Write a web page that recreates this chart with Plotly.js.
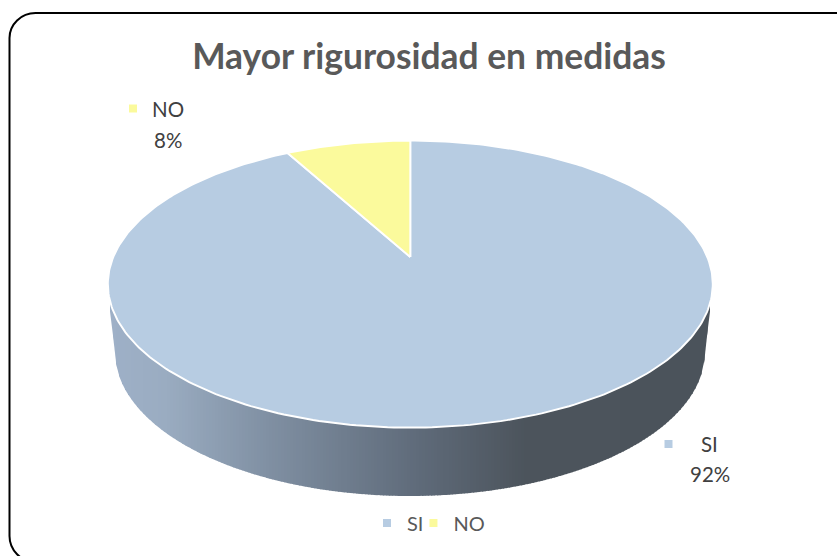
<!DOCTYPE html>
<html><head><meta charset="utf-8">
<script src="https://cdn.plot.ly/plotly-3.0.1.min.js"></script>
<style>html,body{margin:0;padding:0;background:#fff;overflow:hidden}#c{width:837px;height:556px}</style>
</head><body><div id="c"></div>
<script>
var categories = ['SI', 'NO'];
var shares = [92, 8];
var sliceColors = ['#B7CCE2', '#FBFA9C'];
var titleText = 'Mayor rigurosidad en medidas';
var FONT = 'Lato, sans-serif';

// Perspective disc: apex of the slices and projective factors
var CX = 410.3, APEX_Y = 257, B = 297, A = 138.4, K = -0.189;
function project(deg){
  var r = deg*Math.PI/180, u = Math.sin(r), v = -Math.cos(r), d = 1 + K*v;
  return [CX + B*u/d, APEX_Y + A*v/d];
}
// Lower rim of the side wall
var BOT_CX = 410, BOT_CY = 352, BOT_RX = 295, BOT_RY = 144, WALL_TOP_Y = 303;
function rimY(x){
  var dx = Math.abs(x - BOT_CX);
  if (dx >= BOT_RX) { return BOT_CY - (dx - BOT_RX)/6*(BOT_CY - WALL_TOP_Y); }
  return BOT_CY + BOT_RY*Math.sqrt(1 - dx*dx/(BOT_RX*BOT_RX));
}
var wallStops = [[110,[158,176,199]],[165,[154,172,193]],[267,[128,144,163]],[417,[95,107,122]],[525,[76,84,92]],[712,[75,83,91]]];
function wallColor(x){
  for (var i=0;i<wallStops.length-1;i++){
    var a=wallStops[i], b=wallStops[i+1];
    if (x<=b[0]){
      var t=(x-a[0])/(b[0]-a[0]);
      return 'rgb('+[0,1,2].map(function(j){return Math.round(a[1][j]+t*(b[1][j]-a[1][j]));}).join(',')+')';
    }
  }
  return 'rgb(75,83,91)';
}

var traces = [];
// side wall
var STEP = 3;
for (var x0 = 110; x0 < 710; x0 += STEP){
  var x1 = Math.min(x0 + STEP + 0.6, 710);
  traces.push({type:'scatter', mode:'none', fill:'toself', fillcolor:wallColor(x0+STEP/2),
    x:[x0,x1,x1,x0], y:[290,290,rimY(x1),rimY(x0)], showlegend:false, hoverinfo:'skip'});
}
// slices from the values
var total = shares.reduce(function(s,v){return s+v;},0), startDeg = 0;
shares.forEach(function(val,i){
  var sweep = val/total*360, xs=[CX], ys=[APEX_Y];
  for (var k=0;k<=Math.ceil(sweep);k++){
    var p = project(startDeg + sweep*k/Math.ceil(sweep));
    xs.push(p[0]); ys.push(p[1]);
  }
  xs.push(CX); ys.push(APEX_Y);
  traces.push({type:'scatter', mode:'lines', fill:'toself', fillcolor:sliceColors[i],
    line:{color:'#ffffff', width:1.9}, x:xs, y:ys, showlegend:false, hoverinfo:'skip', name:categories[i]});
  startDeg += sweep;
});
// data-label keys (also the legend entries)
var keyX = [668.5, 133], keyY = [444, 108.5];
categories.forEach(function(c,i){
  traces.push({type:'scatter', mode:'markers', name:c, x:[keyX[i]], y:[keyY[i]],
    marker:{symbol:'square', size:8, color:sliceColors[i]}, hoverinfo:'skip'});
});
var labelX = [709.5, 168], nameY = [444, 109], pctY = [474, 140];
var annotations = [];
categories.forEach(function(c,i){
  annotations.push({x:labelX[i], y:nameY[i], text:c, showarrow:false, xref:'x', yref:'y', xanchor:'center', yanchor:'middle', font:{family:FONT,size:20.5,color:'#404040'}});
  annotations.push({x:labelX[i], y:pctY[i], text:Math.round(shares[i]/total*100)+'%', showarrow:false, xref:'x', yref:'y', xanchor:'center', yanchor:'middle', font:{family:FONT,size:20.5,color:'#404040'}});
});
var layout = {
  width:837, height:556, margin:{l:0,r:0,t:0,b:0}, paper_bgcolor:'#fff', plot_bgcolor:'#fff',
  title:{text:'<b>'+titleText+'</b>', x:429/837, y:1-57/556, xanchor:'center', yanchor:'middle', font:{family:FONT,size:35.4,color:'#595959'}},
  xaxis:{range:[0,837], visible:false, fixedrange:true},
  yaxis:{range:[556,0], visible:false, fixedrange:true},
  legend:{orientation:'h', x:436/837, y:1-523/556, xanchor:'center', yanchor:'middle', indentation:-15, itemwidth:30, font:{family:FONT,size:20,color:'#595959'}, bgcolor:'rgba(0,0,0,0)'},
  annotations:annotations,
  shapes:[{type:'path', xref:'x', yref:'y', layer:'above', line:{color:'#000',width:2},
    path:'M 845 13 H 35.5 C 21 13 9.5 24.5 9.5 38 V 536 C 9.5 550 21 562 35.5 562 H 845'}]
};
Plotly.newPlot('c', traces, layout, {displayModeBar:false, staticPlot:true});
</script></body></html>
